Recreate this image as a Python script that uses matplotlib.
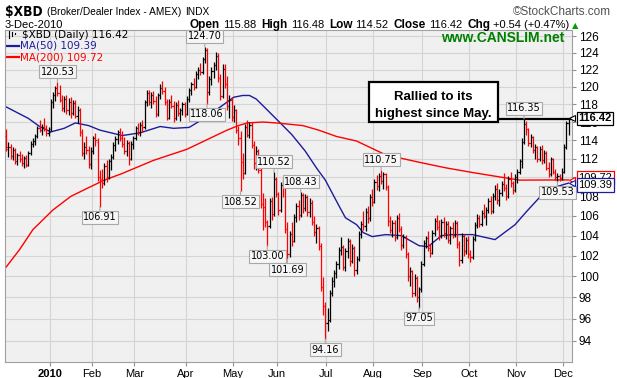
"""$XBD daily OHLC chart with 50/200-day moving averages (StockCharts style)."""

import numpy as np
import pandas as pd
import matplotlib
import matplotlib.pyplot as plt
from matplotlib.patches import Rectangle
from matplotlib.ticker import FixedLocator, FuncFormatter, NullLocator

matplotlib.use("Agg")

# ---- data -------------------------------------------------------------
holidays = ["2009-12-25", "2010-01-01", "2010-01-18", "2010-02-15", "2010-04-02",
            "2010-05-31", "2010-07-05", "2010-09-06", "2010-11-25"]
dates = pd.bdate_range("2009-12-03", "2010-12-03")
dates = dates[~dates.isin(pd.to_datetime(holidays))]

opens = [
    114.5, 113.2, 113.3, 112.3, 112.9, 111.7, 112.4, 112.0, 111.5, 112.1,
    111.3, 112.6, 113.6, 113.9, 114.5, 115.3, 115.1, 115.5, 115.2, 114.8,
    115.2, 118.3, 119.1, 119.8, 119.3, 118.5, 117.6, 118.6, 117.3, 118.2,
    117.0, 118.1, 116.7, 117.4, 114.9, 112.6, 113.3, 112.9, 111.4, 112.8,
    114.2, 113.8, 110.0, 109.8, 109.4, 111.2, 110.0, 111.7, 112.2, 113.5,
    114.1, 114.9, 114.2, 113.6, 112.8, 113.7, 112.0, 113.6, 114.2, 115.3,
    114.9, 115.7, 115.4, 118.2, 119.3, 118.2, 119.0, 118.4, 116.9, 119.0,
    119.8, 119.5, 118.3, 116.5, 118.3, 117.8, 116.4, 117.9, 117.0, 117.3,
    118.0, 116.9, 118.6, 119.6, 120.3, 120.0, 121.5, 122.0, 121.7, 123.2,
    124.3, 119.4, 120.9, 121.8, 122.5, 123.6, 121.0, 118.9, 122.1, 120.3,
    117.8, 118.5, 116.6, 117.4, 115.1, 114.2, 111.6, 110.4, 115.5, 114.6,
    115.7, 113.5, 111.5, 112.8, 110.8, 107.2, 106.9, 105.4, 105.0, 107.5,
    106.2, 109.8, 108.2, 106.6, 109.2, 108.9, 104.7, 102.2, 104.2, 103.5,
    105.9, 107.0, 106.1, 108.1, 106.8, 107.9, 106.4, 107.3, 105.4, 104.4,
    104.8, 103.0, 99.0, 97.2, 95.6, 95.9, 98.4, 99.6, 100.3, 101.2,
    102.6, 102.9, 100.9, 102.5, 103.5, 101.5, 102.8, 100.6, 101.7, 104.2,
    105.2, 105.0, 106.4, 105.8, 107.9, 107.4, 109.5, 109.1, 110.1, 109.6,
    110.3, 109.0, 105.5, 104.6, 105.3, 103.9, 105.8, 104.7, 103.1, 103.9,
    102.2, 100.0, 100.5, 98.4, 99.8, 98.0, 98.8, 101.2, 103.3, 103.8,
    102.8, 102.3, 104.3, 105.5, 104.9, 104.0, 105.4, 104.3, 105.2, 103.6,
    104.8, 104.1, 105.3, 103.2, 101.6, 104.0, 102.5, 103.6, 102.2, 101.9,
    103.7, 105.1, 105.8, 105.2, 106.3, 106.0, 106.6, 107.5, 106.5, 108.0,
    108.8, 107.6, 108.4, 109.3, 108.9, 108.0, 109.8, 109.4, 108.7, 110.0,
    110.6, 111.7, 113.8, 115.8, 115.2, 113.7, 114.3, 112.9, 113.2, 111.9,
    113.0, 111.8, 112.6, 111.0, 110.3, 111.9, 110.6, 110.0, 110.1, 109.9,
    110.6, 113.3, 115.88,
]
highs = [
    115.2, 113.8, 113.6, 113.2, 113.1, 112.6, 112.8, 112.5, 112.3, 112.4,
    112.8, 113.9, 114.2, 114.7, 115.6, 116.2, 115.8, 116.4, 115.7, 115.4,
    118.6, 119.4, 120.1, 120.53, 120.2, 119.0, 118.9, 119.0, 118.7, 118.8,
    118.5, 118.5, 117.8, 117.6, 115.2, 113.8, 114.5, 113.4, 113.2, 114.4,
    114.8, 114.2, 110.8, 110.9, 111.5, 111.8, 112.0, 112.5, 113.8, 114.4,
    115.1, 115.3, 115.0, 114.3, 114.0, 113.9, 113.9, 114.5, 115.6, 115.9,
    116.0, 116.2, 118.5, 119.6, 119.6, 119.4, 119.5, 118.9, 119.3, 120.3,
    120.7, 120.0, 118.6, 118.6, 119.0, 118.4, 118.2, 118.5, 117.6, 118.3,
    118.3, 118.9, 119.9, 120.6, 121.0, 121.8, 122.3, 122.8, 123.5, 124.70,
    124.5, 121.2, 122.3, 122.9, 124.1, 123.9, 121.5, 122.6, 122.7, 121.2,
    119.0, 118.8, 117.9, 117.5, 115.6, 115.0, 112.6, 115.8, 116.2, 116.0,
    116.0, 113.9, 113.4, 113.0, 111.0, 108.3, 107.8, 105.6, 107.8, 107.9,
    110.52, 110.0, 108.5, 109.5, 109.9, 109.0, 105.4, 104.5, 105.4, 106.2,
    107.3, 107.6, 108.43, 108.3, 108.2, 108.1, 107.8, 107.6, 106.0, 105.2,
    105.0, 103.3, 99.9, 97.6, 97.0, 98.7, 99.9, 100.6, 101.5, 102.9,
    103.9, 103.1, 102.8, 103.8, 103.7, 103.2, 103.0, 102.0, 104.5, 105.5,
    106.5, 106.8, 107.0, 108.2, 108.8, 109.8, 110.2, 110.5, 110.75, 110.6,
    110.5, 109.2, 106.0, 105.6, 105.6, 106.1, 106.3, 105.0, 104.2, 104.1,
    102.4, 100.9, 100.6, 100.2, 100.0, 99.0, 101.5, 103.6, 104.0, 104.5,
    103.2, 104.6, 105.8, 106.1, 105.6, 105.7, 105.9, 105.5, 105.5, 105.0,
    105.4, 105.6, 105.5, 103.5, 104.3, 104.2, 103.9, 104.0, 102.6, 104.0,
    105.4, 106.2, 106.1, 106.6, 107.2, 106.9, 107.8, 108.0, 108.3, 109.2,
    109.4, 108.8, 109.6, 110.4, 109.3, 110.1, 110.6, 109.6, 110.3, 110.9,
    112.0, 114.2, 116.35, 116.1, 115.3, 114.7, 114.5, 113.6, 113.4, 113.4,
    113.5, 112.9, 112.8, 111.6, 112.2, 112.1, 110.9, 110.4, 110.3, 111.0,
    113.6, 116.1, 116.48,
]
lows = [
    112.8, 112.2, 112.0, 111.8, 111.4, 111.3, 111.6, 111.2, 111.0, 111.1,
    111.2, 112.4, 113.2, 113.5, 114.2, 114.9, 114.6, 115.0, 114.5, 114.4,
    115.0, 117.6, 118.4, 118.9, 118.2, 117.2, 117.1, 116.9, 116.8, 116.5,
    116.8, 116.4, 115.9, 114.5, 112.3, 112.0, 112.5, 111.0, 110.9, 112.5,
    113.4, 109.6, 106.91, 108.9, 109.2, 109.5, 109.8, 110.8, 112.0, 112.8,
    113.6, 113.9, 113.2, 112.5, 112.3, 111.3, 111.8, 113.0, 114.0, 114.6,
    114.4, 114.9, 115.2, 117.8, 117.9, 117.6, 118.0, 116.6, 116.7, 118.6,
    119.2, 117.9, 116.2, 116.3, 117.6, 116.0, 116.2, 116.7, 116.1, 116.8,
    116.6, 116.8, 118.3, 119.1, 119.6, 119.8, 120.9, 121.4, 121.5, 122.8,
    118.06, 119.0, 120.2, 121.0, 122.0, 120.5, 118.5, 118.7, 119.8, 117.3,
    116.5, 116.1, 116.0, 114.8, 113.5, 108.52, 109.8, 110.3, 114.3, 114.2,
    113.1, 110.9, 110.8, 110.4, 106.8, 104.6, 104.9, 103.00, 104.8, 105.6,
    106.0, 107.9, 106.1, 106.4, 107.9, 104.3, 101.69, 101.9, 103.0, 103.4,
    105.4, 105.6, 105.9, 106.3, 106.5, 106.0, 105.9, 105.1, 104.0, 103.3,
    102.6, 98.6, 96.4, 94.16, 94.9, 95.7, 98.1, 99.0, 99.8, 100.7,
    102.1, 100.6, 100.5, 101.8, 101.0, 101.3, 100.0, 100.2, 101.5, 103.8,
    104.6, 104.5, 105.3, 105.5, 107.0, 107.3, 108.7, 108.6, 109.3, 108.8,
    108.7, 105.0, 104.3, 103.9, 103.5, 103.7, 104.4, 102.6, 102.8, 101.8,
    99.6, 99.1, 98.0, 98.1, 97.6, 97.05, 98.5, 101.0, 102.8, 102.5,
    101.9, 102.2, 104.0, 104.6, 103.6, 103.8, 103.9, 103.7, 103.3, 103.2,
    103.8, 103.9, 102.8, 101.0, 101.3, 102.0, 102.2, 101.8, 101.4, 101.7,
    103.5, 104.8, 104.9, 105.0, 105.8, 105.1, 106.3, 106.2, 106.3, 107.6,
    107.2, 107.0, 108.0, 108.6, 107.6, 107.8, 109.0, 108.2, 108.5, 109.4,
    110.3, 111.0, 113.6, 114.6, 113.4, 113.2, 112.6, 112.0, 111.6, 111.7,
    111.4, 111.5, 110.8, 110.0, 110.1, 110.3, 109.7, 109.53, 109.6, 109.7,
    110.5, 113.0, 114.52,
]
closes = [
    113.0, 113.3, 112.3, 112.9, 111.7, 112.4, 111.9, 111.5, 112.1, 111.3,
    112.6, 113.6, 113.9, 114.5, 115.3, 115.1, 115.5, 115.2, 114.8, 114.9,
    118.3, 119.1, 119.8, 119.3, 118.5, 117.6, 118.6, 117.3, 118.2, 117.0,
    118.1, 116.7, 117.4, 114.9, 112.6, 113.3, 112.9, 111.4, 112.8, 114.2,
    114.0, 110.0, 109.8, 109.4, 111.2, 110.0, 111.7, 112.2, 113.5, 114.1,
    114.9, 114.2, 113.6, 112.8, 113.7, 112.0, 113.6, 114.2, 115.3, 114.9,
    115.7, 115.4, 118.2, 119.3, 118.2, 119.0, 118.4, 116.9, 119.0, 119.8,
    119.5, 118.3, 116.5, 118.3, 117.8, 116.4, 117.9, 117.0, 117.3, 118.0,
    116.9, 118.6, 119.6, 120.3, 120.0, 121.5, 122.0, 121.7, 123.2, 124.3,
    119.4, 120.9, 121.8, 122.5, 123.6, 121.0, 118.9, 122.1, 120.3, 117.8,
    118.5, 116.6, 117.4, 115.1, 114.2, 111.6, 110.4, 115.5, 114.6, 115.7,
    113.5, 111.5, 112.8, 110.8, 107.2, 106.9, 105.4, 105.0, 107.5, 106.2,
    109.8, 108.2, 106.6, 109.2, 108.9, 104.7, 102.2, 104.2, 103.5, 105.9,
    107.0, 106.1, 108.1, 106.8, 107.9, 106.4, 107.3, 105.4, 104.4, 104.8,
    103.0, 99.0, 97.2, 95.6, 95.9, 98.4, 99.6, 100.3, 101.2, 102.6,
    102.9, 100.9, 102.5, 103.5, 101.5, 102.8, 100.6, 101.7, 104.2, 105.2,
    105.0, 106.4, 105.8, 107.9, 107.4, 109.5, 109.1, 110.1, 109.6, 110.3,
    109.0, 105.5, 104.6, 105.3, 103.9, 105.8, 104.7, 103.1, 103.9, 102.2,
    100.0, 100.5, 98.4, 99.8, 98.0, 98.8, 101.2, 103.3, 103.8, 102.8,
    102.3, 104.3, 105.5, 104.9, 104.0, 105.4, 104.3, 105.2, 103.6, 104.8,
    104.1, 105.3, 103.2, 101.6, 104.0, 102.5, 103.6, 102.2, 101.9, 103.7,
    105.1, 105.8, 105.2, 106.3, 106.0, 106.6, 107.5, 106.5, 108.0, 108.8,
    107.6, 108.4, 109.3, 108.9, 108.0, 109.8, 109.4, 108.7, 110.0, 110.6,
    111.7, 113.8, 115.8, 115.2, 113.7, 114.3, 112.9, 113.2, 111.9, 113.0,
    111.8, 112.6, 111.0, 110.3, 111.9, 110.6, 110.0, 110.1, 109.9, 110.6,
    113.3, 115.88, 116.42,
]

# moving averages (bar index, value)
ma50_idx = [0, 10, 15, 20, 26, 31, 37, 42, 47, 52, 60, 69, 75, 82, 88, 96, 102,
            106, 109, 112, 116, 122, 128, 134, 139, 143, 148, 152, 157, 160, 164,
            170, 177, 185, 189, 195, 200, 209, 219, 228, 233, 239, 245, 252]
ma50_val = [117.7, 116.4, 115.5, 114.9, 115.3, 115.9, 115.6, 115.1, 114.8, 114.5,
            114.8, 115.5, 115.3, 115.4, 116.3, 117.7, 118.8, 119.0, 119.0, 118.6,
            117.6, 116.1, 114.6, 112.8, 111.0, 109.7, 107.5, 105.8, 105.1, 104.3,
            103.9, 104.1, 104.0, 103.0, 102.9, 104.0, 104.1, 104.1, 103.6, 105.1,
            106.4, 107.9, 108.9, 109.39]
ma200_idx = [0, 6, 12, 21, 29, 36, 44, 52, 66, 81, 93, 99, 104, 108, 115, 121, 133,
             140, 148, 157, 170, 185, 197, 209, 222, 230, 252]
ma200_val = [100.9, 102.6, 104.6, 106.6, 108.0, 108.8, 109.7, 110.4, 111.8, 113.0,
             114.4, 115.1, 115.6, 115.9, 116.0, 115.9, 115.6, 115.1, 114.4, 113.9,
             112.4, 111.6, 111.0, 110.5, 110.0, 109.7, 109.72]

high_label_idx = [23, 89, 120, 132, 168, 232]
low_label_idx = [42, 90, 105, 117, 126, 143, 185, 247]
month_names = ["2010", "Feb", "Mar", "Apr", "May", "Jun", "Jul", "Aug", "Sep",
               "Oct", "Nov", "Dec"]
y_ticks = list(range(94, 127, 2))
quote = [("Open", "115.88"), ("High", "116.48"), ("Low", "114.52"),
         ("Close", "116.42"), ("Chg", "+0.54 (+0.47%)")]

# ---- figure -----------------------------------------------------------
W, H = 617, 378
BG = "#f0f0f0"
GRID = "#d4d4d4"
SANS = ["Liberation Sans", "DejaVu Sans"]


def fx(px):
    return px / W


def fy(py):
    return 1 - py / H


fig = plt.figure(figsize=(W / 100, H / 100), dpi=100)
fig.patch.set_facecolor("white")
ax = fig.add_axes([fx(5), 16 / H, 567 / W, 332 / H])
ax.set_facecolor(BG)
ax.set_yscale("log")
ax.set_xlim(-0.5, 253.5)
ax.set_ylim(92.1, 126.73)

o = np.array(opens)
h = np.array(highs)
l = np.array(lows)
c = np.array(closes)
x = np.arange(len(c))
prev = np.r_[o[0], c[:-1]]
colors = np.where(c < prev, "#ff0000", "#000000")
ax.vlines(x, l, h, colors=colors, lw=0.9, zorder=3)
ax.hlines(o, x - 0.5, x, colors=colors, lw=0.9, zorder=3)
ax.hlines(c, x, x + 0.5, colors=colors, lw=0.9, zorder=3)

ax.plot(ma50_idx, ma50_val, color="#1c1c9c", lw=1.0, zorder=2)
ax.plot(ma200_idx, ma200_val, color="#ff0000", lw=1.0, zorder=2)

# axes, ticks, grid
month_starts = [int(np.argmax(dates >= pd.Timestamp(2010, m, 1))) for m in range(1, 13)]
ax.xaxis.set_major_locator(FixedLocator([m - 0.5 for m in month_starts]))
ax.set_xticklabels(month_names, fontsize=8, family=SANS)
ax.get_xticklabels()[0].set_fontweight("bold")
ax.yaxis.tick_right()
ax.yaxis.set_major_locator(FixedLocator(y_ticks))
ax.yaxis.set_minor_locator(NullLocator())
ax.yaxis.set_major_formatter(FuncFormatter(lambda v, p: f"{v:.0f}"))
ax.tick_params(axis="y", labelsize=8.5, length=3, color="#909090", pad=2)
ax.tick_params(axis="x", labelsize=8, length=3, color="#909090", pad=2)
for t in ax.get_yticklabels():
    t.set_family(SANS)
ax.grid(True, color=GRID, lw=0.8)
ax.set_axisbelow(True)
for s in ax.spines.values():
    s.set_color("#a0a0a0")
    s.set_linewidth(0.8)

# high / low price labels
box = dict(boxstyle="square,pad=0.15", fc="#f6f6f6", ec="#a8a8a8", lw=0.8)
stem = dict(arrowstyle="-", color="#a8a8a8", lw=0.8, shrinkA=0, shrinkB=0)
for i in high_label_idx:
    ax.annotate(f"{h[i]:.2f}", xy=(i, h[i]), xytext=(0, 7.6), textcoords="offset points",
                ha="center", va="center", fontsize=7, family="DejaVu Sans", bbox=box,
                arrowprops=stem, zorder=5)
for i in low_label_idx:
    ax.annotate(f"{l[i]:.2f}", xy=(i, l[i]), xytext=(0, -7.6), textcoords="offset points",
                ha="center", va="center", fontsize=7, family="DejaVu Sans", bbox=box,
                arrowprops=stem, zorder=5)

# value tags on the right edge (the MA tags overlap, as on the original)
tags = [(ma200_val[-1], "#ff0000", "normal", 1.5), (ma50_val[-1], "#1c1c9c", "normal", -1.5),
        (c[-1], "#000000", "bold", 0)]
for val, col, wt, dy in tags:
    ax.plot([1.0], [val], marker="<", ms=5, mfc="white", mec=col, mew=0.8,
            transform=ax.get_yaxis_transform(), clip_on=False, zorder=6)
    ax.annotate(f"{val:.2f}", xy=(1.0, val), xycoords=("axes fraction", "data"),
                xytext=(4.5, dy), textcoords="offset points", ha="left", va="center",
                fontsize=8, fontweight=wt, family=SANS, annotation_clip=False,
                bbox=dict(boxstyle="square,pad=0.15", fc="white", ec=col, lw=0.9), zorder=7)

# legend
ax.text(fx(22), fy(38), f"$XBD (Daily) {c[-1]:.2f}", transform=fig.transFigure,
        fontsize=7.5, family="DejaVu Sans", va="baseline")
for k, xo in enumerate([9, 12, 15]):
    ax.plot([fx(xo)] * 2, [fy(38 - 2 * k), fy(31 + k)], color="black", lw=0.8,
            transform=fig.transFigure, clip_on=False)
ax.plot([fx(6), fx(19)], [fy(46), fy(46)], color="#1c1c9c", lw=1.6,
        transform=fig.transFigure)
ax.text(fx(20), fy(49), f"MA(50) {ma50_val[-1]:.2f}", transform=fig.transFigure,
        fontsize=7.5, family="DejaVu Sans", color="#1c1c9c", va="baseline")
ax.plot([fx(6), fx(19)], [fy(57), fy(57)], color="#ff0000", lw=1.6,
        transform=fig.transFigure)
ax.text(fx(20), fy(60), f"MA(200) {ma200_val[-1]:.2f}", transform=fig.transFigure,
        fontsize=7.5, family="DejaVu Sans", color="#ff0000", va="baseline")

fig.text(fx(564), fy(38), "www.CANSLIM.net", ha="right", va="center", color="#008000",
         fontsize=10, fontweight="bold", family=SANS)

# callout
fig.add_artist(Rectangle((fx(369), fy(122)), 129 / W, 40 / H, transform=fig.transFigure,
                         fc="white", ec="black", lw=1.6, zorder=8))
fig.text(fx(433.5), fy(97), "Rallied to its", ha="center", va="center", fontsize=9.5,
         fontweight="bold", family=SANS, zorder=9)
fig.text(fx(433.5), fy(114), "highest since May.", ha="center", va="center", fontsize=9.5,
         fontweight="bold", family=SANS, zorder=9)
ax.axhline(h[232], xmin=(498 - 5) / 567, xmax=1, color="black", lw=1.6, zorder=4)

# header: place pieces one after another using measured widths
renderer = fig.canvas.get_renderer()


def put(px, py, txt, **kw):
    t = fig.text(fx(px), fy(py), txt, va="baseline", **kw)
    return px + t.get_window_extent(renderer).width


nx = put(5, 16, "$XBD", fontsize=9.8, fontweight="bold", family="DejaVu Sans",
         fontstretch="condensed")
nx = put(nx + 4, 15, "(Broker/Dealer Index - AMEX)", fontsize=7.3, family=SANS)
put(nx + 4, 15, "INDX", fontsize=7.3, family=SANS)
fig.text(fx(611), fy(15), "\u00a9StockCharts.com", fontsize=8.5, family=SANS, ha="right",
         color="#505050", va="baseline")
put(5, 28, "3-Dec-2010", fontsize=8, family=SANS)
nx = 190
for lab, val in quote:
    nx = put(nx, 28, lab, fontsize=8.5, fontweight="bold", family=SANS)
    nx = put(nx + 3, 28, val, fontsize=8, family=SANS) + 5
fig.text(fx(nx - 2), fy(28), "\u25b2", fontsize=6, color="#00a000", family="DejaVu Sans",
         va="baseline")

fig.savefig("out.png", dpi=100)
